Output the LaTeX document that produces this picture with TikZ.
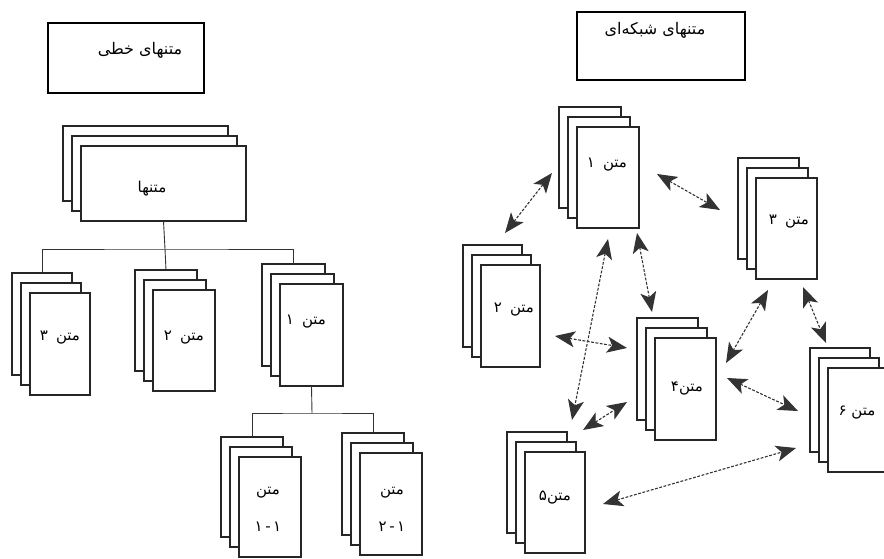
\documentclass[tikz,border=0pt]{standalone}
\usepackage{fontspec}
\newfontfamily\fafont[Script=Arabic]{DejaVu Sans}
\TeXXeTstate=1
\usetikzlibrary{arrows.meta}

% Persian text, set right to left
\newcommand\fa[1]{{\fafont\beginR #1\endR}}
% word and number with a wide gap between them
\newcommand\fan[2]{{\fafont\beginR #1\hspace{8pt}#2\endR}}

% A stack of three sheets: name, x, y (top-left of the back sheet), width, height
\newcommand\docstack[5]{%
  \node[sheet, minimum width=#4pt, minimum height=#5pt] (#1-b) at (#2,#3) {};
  \node[sheet, minimum width=#4pt, minimum height=#5pt, xshift=9pt, yshift=-10pt] (#1-m) at (#2,#3) {};
  \node[sheet, minimum width=#4pt, minimum height=#5pt, xshift=18pt, yshift=-20pt] (#1) at (#2,#3) {};
}

\tikzset{
  sheet/.style={draw=black!85, fill=white, line width=1.5pt, inner sep=0pt,
    outer sep=0pt, anchor=north west},
  titlebox/.style={draw=black, line width=2pt, inner sep=0pt, outer sep=0pt,
    anchor=north west},
  label/.style={font=\fontsize{15}{17}\selectfont, inner sep=1pt},
  title/.style={font=\fontsize{16}{18}\selectfont, inner sep=1pt},
  tree/.style={draw=black!80, line width=0.9pt},
  link/.style={draw=black!80, line width=1.1pt, dash pattern=on 2.8pt off 1.6pt,
    {Stealth[length=20pt,width=16pt,inset=5pt]}-{Stealth[length=20pt,width=16pt,inset=5pt]}},
}

\begin{document}
\begin{tikzpicture}[x=1pt, y=-1pt]
\useasboundingbox (0,0) rectangle (884,558);

% ---------- linear texts ----------
\node[titlebox, minimum width=156pt, minimum height=70pt] (ltitle) at (48,23) {};
\node[title] (ltitle-t) at (140,50) {\fa{متنهای خطی}};

\docstack{top}{63}{126}{165}{75}
\node[label] (top-t) at (152,189) {\fa{متنها}};

\docstack{s3}{12}{273}{60}{102}
\node[label] (s3-t) at (60,338) {\fan{متن}{۳}};
\docstack{s2}{135}{270}{62}{101}
\node[label] (s2-t) at (184,338) {\fan{متن}{۲}};
\docstack{s1}{262}{264}{63}{102}
\node[label] (s1-t) at (306,322) {\fan{متن}{۱}};

\docstack{s11}{221}{437}{62}{100}
\node[label] (s11-t) at (268,493) {\fa{متن}};
\node[label] (s11-n) at (268,527) {\fa{۱\,-\,۱}};
\docstack{s12}{342}{433}{62}{102}
\node[label] (s12-t) at (392,493) {\fa{متن}};
\node[label] (s12-n) at (392,527) {\fa{۱\,-\,۲}};

\coordinate (j1) at (165,249);
\coordinate (j2) at (312,413);
\draw[tree] (top.south) -- (j1) -- (s2-b.north);
\draw[tree] (s3-b.north) |- (j1) -| (s1-b.north);
\draw[tree] (s1.south) -- (j2);
\draw[tree] (s11-b.north) |- (j2) -| (s12-b.north);

% ---------- network texts ----------
\node[titlebox, minimum width=168pt, minimum height=68pt] (rtitle) at (577,12) {};
\node[title] (rtitle-t) at (655,30) {\fa{متنهای شبکه‌ای}};

\docstack{n1}{559}{107}{62}{101}
\node[label] (n1-t) at (607,165) {\fan{متن}{۱}};
\docstack{n2}{463}{245}{59}{102}
\node[label] (n2-t) at (514,310) {\fan{متن}{۲}};
\docstack{n3}{738}{158}{61}{101}
\node[label] (n3-t) at (789,222) {\fan{متن}{۳}};
\docstack{n4}{637}{318}{61}{102}
\node[label] (n4-t) at (687,388) {\fa{متن۴}};
\docstack{n5}{507}{432}{60}{101}
\node[label] (n5-t) at (555,498) {\fa{متن۵}};
\docstack{n6}{810}{348}{60}{104}
\node[label] (n6-t) at (857,413) {\fa{متن ۶}};

% arrow ends
\coordinate (a21) at (505,233); \coordinate (a12) at (552,173);
\coordinate (a13) at (657,174); \coordinate (a31) at (720,210);
\coordinate (a15) at (608,239); \coordinate (a51) at (572,420);
\coordinate (a14) at (637,233); \coordinate (a41) at (652,312);
\coordinate (a24) at (555,336); \coordinate (a42) at (627,348);
\coordinate (a54) at (583,430); \coordinate (a45) at (627,402);
\coordinate (a46) at (727,378); \coordinate (a64) at (798,411);
\coordinate (a34) at (768,290); \coordinate (a43) at (726,363);
\coordinate (a36) at (803,287); \coordinate (a63) at (826,343);
\coordinate (a56) at (603,504); \coordinate (a65) at (796,448);

\draw[link] (a21) -- (a12);
\draw[link] (a13) -- (a31);
\draw[link] (a15) -- (a51);
\draw[link] (a14) -- (a41);
\draw[link] (a24) -- (a42);
\draw[link] (a54) -- (a45);
\draw[link] (a46) -- (a64);
\draw[link] (a34) -- (a43);
\draw[link] (a36) -- (a63);
\draw[link] (a56) -- (a65);
\end{tikzpicture}
\end{document}
